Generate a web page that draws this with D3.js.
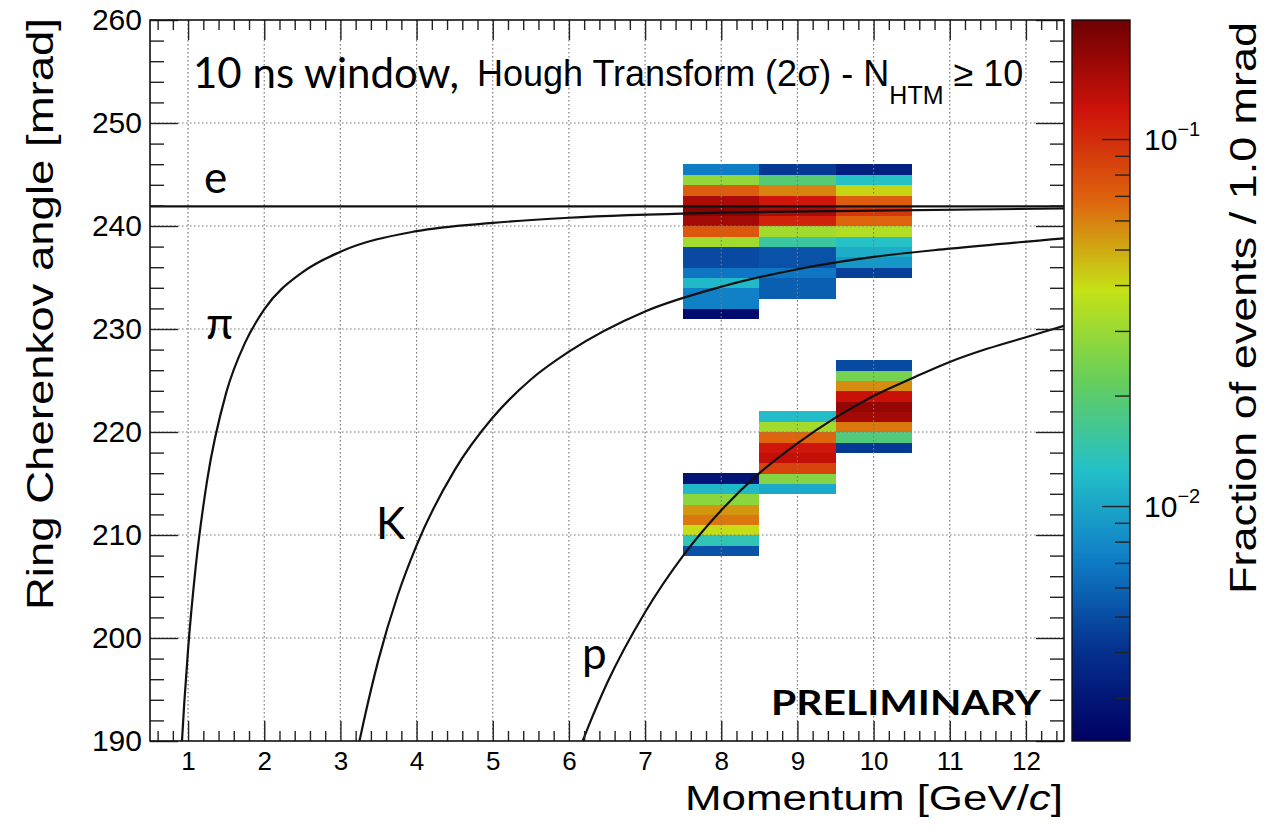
<!DOCTYPE html>
<html>
<head>
<meta charset="utf-8">
<script src="https://cdn.jsdelivr.net/npm/d3@7"></script>
<style>
  html, body { margin: 0; padding: 0; background: #fff; }
  svg { display: block; }
  .root { font-family: "Liberation Sans", Arial, Helvetica, sans-serif; fill: #000; }
  .ppt  { font-family: Lato, "Open Sans", sans-serif; fill: #000; }
</style>
</head>
<body>
<svg id="chart" width="1271" height="826"></svg>
<script>
// ---- data -------------------------------------------------------------
// momentum bin centres (GeV/c); each bin is 1 GeV/c wide
const momentumBins = [8, 9, 10];

// lower edge (mrad) of the first 1-mrad angle bin in each momentum column
const upperBandStart = [231, 233, 235];
const lowerBandStart = [208, 214, 218];

// fraction of events per 1 mrad bin, from the lowest angle bin upward
const upperBand8  = [0.0026, 0.0074, 0.0074, 0.0117, 0.0068, 0.0049, 0.0049, 0.0316,
                     0.0745, 0.154, 0.184, 0.147, 0.0713, 0.0288, 0.0071];
const upperBand9  = [0.0057, 0.0057, 0.0068, 0.0052, 0.0052, 0.0153, 0.0316,
                     0.107, 0.147, 0.117, 0.0594, 0.0192, 0.0043];
const upperBand10 = [0.0045, 0.0089, 0.0107, 0.0128, 0.0345, 0.0681, 0.0934,
                     0.0713, 0.0414, 0.0128, 0.0033];

const lowerBand8  = [0.0052, 0.0140, 0.0396, 0.0622, 0.0543, 0.0275, 0.0117, 0.0029];
const lowerBand9  = [0.0102, 0.0264, 0.0853, 0.128, 0.117, 0.0681, 0.0316, 0.0122];
const lowerBand10 = [0.0043, 0.0185, 0.0622, 0.154, 0.168, 0.123, 0.0568, 0.0240, 0.0049];

// expected ring angle (mrad) versus momentum (GeV/c) for each particle type
const electronCurve = [[0.5, 241.9], [12.5, 241.9]];
const pionCurve = [[0.92, 190.0], [0.95, 193.7], [1.0, 198.9], [1.1, 206.9], [1.25, 215.3],
                   [1.5, 223.8], [1.75, 228.7], [2.0, 231.9], [2.5, 235.5], [3.0, 237.5],
                   [4.0, 239.5], [5.0, 240.3], [6.0, 240.8], [8.0, 241.3], [10.0, 241.5],
                   [12.5, 241.7]];
const kaonCurve = [[3.25, 190.0], [3.3, 191.7], [3.5, 197.9], [3.75, 204.1], [4.0, 209.0],
                   [4.5, 216.3], [5.0, 221.4], [5.5, 225.1], [6.0, 227.8], [7.0, 231.7],
                   [8.0, 234.1], [9.0, 235.8], [10.0, 237.0], [11.0, 237.8], [12.5, 238.8]];
const protonCurve = [[6.18, 190.0], [6.25, 191.3], [6.5, 195.6], [7.0, 202.5], [7.5, 208.0],
                     [8.0, 212.4], [8.5, 216.0], [9.0, 218.9], [9.5, 221.4], [10.0, 223.5],
                     [10.5, 225.2], [11.0, 226.8], [11.5, 228.1], [12.0, 229.2], [12.5, 230.3]];

// axis ranges and ticks
const xDomain = [0.5, 12.5];
const yDomain = [190, 260];
const zDomain = [0.00229, 0.211];
const xMajorTicks = [1, 2, 3, 4, 5, 6, 7, 8, 9, 10, 11, 12];
const yMajorTicks = [190, 200, 210, 220, 230, 240, 250, 260];
const zMajorTicks = [0.01, 0.1];
const zMinorTicks = [0.003, 0.004, 0.005, 0.006, 0.007, 0.008, 0.009,
                     0.02, 0.03, 0.04, 0.05, 0.06, 0.07, 0.08, 0.09];
const zTickLabels = [["10", "\u22122"], ["10", "\u22121"]];

// rainbow palette stops
const paletteStops = [0, 0.125, 0.25, 0.375, 0.5, 0.625, 0.75, 0.875, 1];
const paletteColors = ["rgb(0,0,99)", "rgb(5,48,142)", "rgb(15,124,198)", "rgb(35,192,201)",
                       "rgb(102,206,90)", "rgb(196,226,22)", "rgb(222,100,14)",
                       "rgb(205,18,10)", "rgb(110,0,2)"];

// ---- layout -------------------------------------------------------------
const frame = { left: 150, right: 1064, top: 20, bottom: 741 };
const bar = { left: 1072, right: 1130 };

const svg = d3.select("#chart");

const x = d3.scaleLinear().domain(xDomain).range([frame.left, frame.right]);
const y = d3.scaleLinear().domain(yDomain).range([frame.bottom, frame.top]);
const z = d3.scaleLog().domain(zDomain).range([frame.bottom, frame.top]);
const zFrac = d3.scaleLog().domain(zDomain).range([0, 1]).clamp(true);
const palette = d3.scaleLinear().domain(paletteStops).range(paletteColors)
  .interpolate(d3.interpolateRgb);
const colorOf = v => palette(zFrac(v));

svg.append("rect").attr("width", 1271).attr("height", 826).attr("fill", "#fff");

const defs = svg.append("defs");
defs.append("clipPath").attr("id", "plotClip")
  .append("rect")
  .attr("x", frame.left).attr("y", frame.top)
  .attr("width", frame.right - frame.left).attr("height", frame.bottom - frame.top);

// ---- 2D histogram cells ---------------------------------------------------
const columns = [
  [upperBandStart[0], upperBand8, momentumBins[0]],
  [upperBandStart[1], upperBand9, momentumBins[1]],
  [upperBandStart[2], upperBand10, momentumBins[2]],
  [lowerBandStart[0], lowerBand8, momentumBins[0]],
  [lowerBandStart[1], lowerBand9, momentumBins[1]],
  [lowerBandStart[2], lowerBand10, momentumBins[2]]
];
const cells = [];
columns.forEach(([start, values, p]) => {
  values.forEach((v, j) => cells.push({ p: p, lo: start + j, v: v }));
});

svg.append("g").attr("clip-path", "url(#plotClip)")
  .selectAll("rect").data(cells).join("rect")
  .attr("x", d => x(d.p - 0.5))
  .attr("width", d => x(d.p + 0.5) - x(d.p - 0.5))
  .attr("y", d => y(d.lo + 1))
  .attr("height", d => y(d.lo) - y(d.lo + 1) + 0.4)
  .attr("fill", d => colorOf(d.v))
  .attr("shape-rendering", "crispEdges");

// ---- grid -----------------------------------------------------------------
const grid = svg.append("g").attr("stroke", "#7a7a7a").attr("stroke-width", 1.2)
  .attr("stroke-dasharray", "1.6,2.4");
grid.selectAll("line.gx").data(xMajorTicks).join("line").attr("class", "gx")
  .attr("x1", d => x(d)).attr("x2", d => x(d))
  .attr("y1", frame.top).attr("y2", frame.bottom);
grid.selectAll("line.gy").data(yMajorTicks.filter(v => v > yDomain[0] && v < yDomain[1]))
  .join("line").attr("class", "gy")
  .attr("y1", d => y(d)).attr("y2", d => y(d))
  .attr("x1", frame.left).attr("x2", frame.right);

// ---- particle curves --------------------------------------------------------
const line = d3.line().x(d => x(d[0])).y(d => y(d[1])).curve(d3.curveMonotoneX);
svg.append("g").attr("clip-path", "url(#plotClip)")
  .selectAll("path").data([electronCurve, pionCurve, kaonCurve, protonCurve]).join("path")
  .attr("d", line)
  .attr("fill", "none")
  .attr("stroke", "#111")
  .attr("stroke-width", 2.2);

// ---- axes -------------------------------------------------------------------
const xMinor = d3.range(6, 125, 2).map(v => v / 10).filter(v => Math.abs(v - Math.round(v)) > 1e-6);
const yMinor = d3.range(192, 260, 2).filter(v => v % 10 !== 0);

function styleAxis(g) {
  g.select(".domain").remove();
  g.selectAll(".tick line").attr("stroke", "#222").attr("stroke-width", 1.4);
}

// bottom
svg.append("g").attr("transform", `translate(0,${frame.bottom})`)
  .call(d3.axisBottom(x).tickValues(xMajorTicks).tickSize(-20).tickPadding(11).tickSizeOuter(0))
  .call(styleAxis)
  .call(g => g.selectAll("text").attr("class", "root").attr("font-size", 26)
    .attr("font-family", null).attr("fill", "#000"));
svg.append("g").attr("transform", `translate(0,${frame.bottom})`)
  .call(d3.axisBottom(x).tickValues(xMinor).tickSize(-10).tickFormat("").tickSizeOuter(0))
  .call(styleAxis);
// top
svg.append("g").attr("transform", `translate(0,${frame.top})`)
  .call(d3.axisTop(x).tickValues(xMajorTicks).tickSize(-20).tickFormat("").tickSizeOuter(0))
  .call(styleAxis);
svg.append("g").attr("transform", `translate(0,${frame.top})`)
  .call(d3.axisTop(x).tickValues(xMinor).tickSize(-10).tickFormat("").tickSizeOuter(0))
  .call(styleAxis);
// left
svg.append("g").attr("transform", `translate(${frame.left},0)`)
  .call(d3.axisLeft(y).tickValues(yMajorTicks).tickSize(-28).tickPadding(8).tickSizeOuter(0))
  .call(styleAxis)
  .call(g => g.selectAll("text").attr("class", "root").attr("font-size", 30)
    .attr("font-family", null).attr("fill", "#000"));
svg.append("g").attr("transform", `translate(${frame.left},0)`)
  .call(d3.axisLeft(y).tickValues(yMinor).tickSize(-14).tickFormat("").tickSizeOuter(0))
  .call(styleAxis);
// right
svg.append("g").attr("transform", `translate(${frame.right},0)`)
  .call(d3.axisRight(y).tickValues(yMajorTicks).tickSize(-28).tickFormat("").tickSizeOuter(0))
  .call(styleAxis);
svg.append("g").attr("transform", `translate(${frame.right},0)`)
  .call(d3.axisRight(y).tickValues(yMinor).tickSize(-14).tickFormat("").tickSizeOuter(0))
  .call(styleAxis);

// frame
svg.append("rect")
  .attr("x", frame.left).attr("y", frame.top)
  .attr("width", frame.right - frame.left).attr("height", frame.bottom - frame.top)
  .attr("fill", "none").attr("stroke", "#111").attr("stroke-width", 1.6);

// ---- colour bar -------------------------------------------------------------
const grad = defs.append("linearGradient").attr("id", "zGrad")
  .attr("x1", 0).attr("y1", 1).attr("x2", 0).attr("y2", 0);
grad.selectAll("stop").data(paletteStops).join("stop")
  .attr("offset", d => d)
  .attr("stop-color", (d, i) => paletteColors[i]);

svg.append("rect")
  .attr("x", bar.left).attr("y", frame.top)
  .attr("width", bar.right - bar.left).attr("height", frame.bottom - frame.top)
  .attr("fill", "url(#zGrad)").attr("stroke", "#111").attr("stroke-width", 1.4);

svg.append("g").attr("transform", `translate(${bar.right},0)`)
  .call(d3.axisLeft(z).tickValues(zMajorTicks).tickSize(28).tickFormat("").tickSizeOuter(0))
  .call(styleAxis);
svg.append("g").attr("transform", `translate(${bar.right},0)`)
  .call(d3.axisLeft(z).tickValues(zMinorTicks).tickSize(15).tickFormat("").tickSizeOuter(0))
  .call(styleAxis);

const zLab = svg.append("g").attr("class", "root");
zMajorTicks.forEach((v, i) => {
  const t = zLab.append("text")
    .attr("x", bar.right + 14).attr("y", z(v) + 11)
    .attr("font-size", 30);
  t.append("tspan").text(zTickLabels[i][0]);
  t.append("tspan").attr("font-size", 20).attr("dy", -14).text(zTickLabels[i][1]);
});

// ---- titles -----------------------------------------------------------------
svg.append("text").attr("class", "root")
  .attr("transform", "translate(53,18) rotate(-90)")
  .attr("text-anchor", "end")
  .attr("font-size", 37)
  .attr("textLength", 592).attr("lengthAdjust", "spacingAndGlyphs")
  .text("Ring Cherenkov angle [mrad]");

svg.append("text").attr("class", "root")
  .attr("transform", "translate(1256,22) rotate(-90)")
  .attr("text-anchor", "end")
  .attr("font-size", 37)
  .attr("textLength", 572).attr("lengthAdjust", "spacingAndGlyphs")
  .text("Fraction of events / 1.0 mrad");

const xt = svg.append("text").attr("class", "root")
  .attr("x", 1063).attr("y", 810)
  .attr("text-anchor", "end")
  .attr("font-size", 35)
  .attr("textLength", 378).attr("lengthAdjust", "spacingAndGlyphs");
xt.append("tspan").text("Momentum [GeV/");
xt.append("tspan").attr("font-style", "italic").text("c");
xt.append("tspan").text("]");

// header line
svg.append("text").attr("class", "ppt")
  .attr("x", 193).attr("y", 88).attr("font-size", 42)
  .text("10 ns window,");
const ht = svg.append("text").attr("class", "root")
  .attr("x", 477).attr("y", 86).attr("font-size", 36);
ht.append("tspan").text("Hough Transform (2\u03c3) - N");
ht.append("tspan").attr("font-size", 25).attr("dy", 18).text("HTM");
ht.append("tspan").attr("dy", -18).text(" \u2265 10");

// particle labels
const labels = svg.append("g").attr("class", "ppt").attr("font-size", 44);
labels.append("text").attr("x", 204).attr("y", 193).text("e");
labels.append("text").attr("x", 206).attr("y", 339).text("\u03c0");
labels.append("text").attr("x", 376).attr("y", 539).text("K");
labels.append("text").attr("x", 582).attr("y", 669).text("p");

svg.append("text").attr("class", "ppt")
  .attr("x", 771).attr("y", 715)
  .attr("font-size", 35).attr("font-weight", 700)
  .attr("textLength", 270).attr("lengthAdjust", "spacingAndGlyphs")
  .text("PRELIMINARY");
</script>
</body>
</html>
